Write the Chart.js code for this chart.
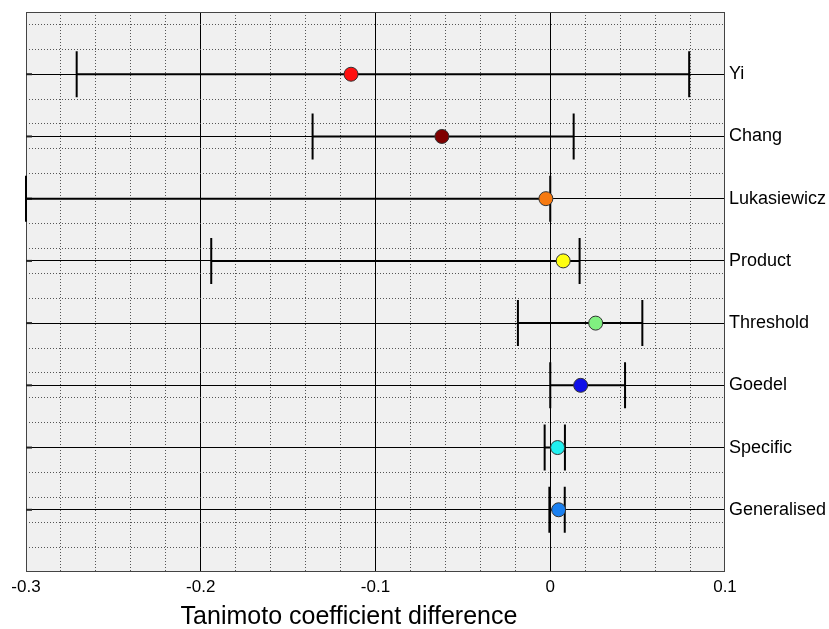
<!DOCTYPE html>
<html>
<head>
<meta charset="utf-8">
<script src="https://cdn.jsdelivr.net/npm/chart.js@4.4.0/dist/chart.umd.min.js"></script>
<style>
  body { margin: 0; background: #fff; }
  #wrap { width: 829px; height: 629px; }
</style>
</head>
<body>
<div id="wrap"><canvas id="myChart"></canvas></div>
<script>
const categories = ['Yi', 'Chang', 'Lukasiewicz', 'Product', 'Threshold', 'Goedel', 'Specific', 'Generalised'];
const means = [-0.114, -0.062, -0.0025, 0.0074, 0.026, 0.0174, 0.0042, 0.0048];
const lower = [-0.271, -0.136, -0.3, -0.194, -0.0185, 0.0, -0.0032, -0.0005];
const upper = [0.0795, 0.0134, 0.0, 0.0168, 0.0527, 0.0428, 0.0084, 0.0083];
const xTicks = [-0.3, -0.2, -0.1, 0, 0.1];
const pointColors = ['#ff1010', '#800000', '#f77a10', '#ffff10', '#80f080', '#1010e8', '#20f0f0', '#1a80f0'];
const xTitle = 'Tanimoto coefficient difference';

// category i sits at y = 8 - i (top to bottom)
const yPos = categories.map((c, i) => categories.length - i);

const isMultiple = (v, step) => Math.abs(v / step - Math.round(v / step)) < 1e-6;

const plotBits = {
  id: 'plotBits',
  beforeDraw(chart) {
    const a = chart.chartArea, ctx = chart.ctx;
    ctx.save();
    ctx.fillStyle = '#f0f0f0';
    ctx.fillRect(a.left, a.top, a.right - a.left, a.bottom - a.top);
    ctx.restore();
  },
  beforeDatasetsDraw(chart) {
    const a = chart.chartArea, ctx = chart.ctx;
    const x = chart.scales.x, y = chart.scales.y;
    ctx.save();
    // frame
    ctx.strokeStyle = '#444';
    ctx.lineWidth = 1;
    ctx.strokeRect(a.left + 0.5, a.top + 0.5, a.right - a.left - 1, a.bottom - a.top - 1);
    // small inner tick marks on the left edge
    ctx.strokeStyle = '#222';
    ctx.lineWidth = 2;
    for (let i = 0; i < categories.length; i++) {
      const py = y.getPixelForValue(yPos[i]);
      ctx.beginPath();
      ctx.moveTo(a.left, py);
      ctx.lineTo(a.left + 6, py);
      ctx.stroke();
    }
    // error bars
    ctx.strokeStyle = '#000';
    ctx.lineWidth = 2;
    for (let i = 0; i < categories.length; i++) {
      const py = y.getPixelForValue(yPos[i]);
      const x0 = x.getPixelForValue(lower[i]);
      const x1 = x.getPixelForValue(upper[i]);
      ctx.beginPath();
      ctx.moveTo(x0, py);
      ctx.lineTo(x1, py);
      ctx.moveTo(x0, py - 23);
      ctx.lineTo(x0, py + 23);
      ctx.moveTo(x1, py - 23);
      ctx.lineTo(x1, py + 23);
      ctx.stroke();
    }
    ctx.restore();
  },
  afterDraw(chart) {
    const ctx = chart.ctx;
    ctx.save();
    ctx.fillStyle = '#000';
    ctx.font = '25px "Liberation Sans", Arial';
    ctx.textAlign = 'center';
    ctx.textBaseline = 'middle';
    ctx.fillText(xTitle, 349, 617);
    ctx.restore();
  }
};

const ctx = document.getElementById('myChart');

const myChart = new Chart(ctx, {
  type: 'scatter',
  data: {
    datasets: [{
      label: 'mean',
      data: means.map((m, i) => ({ x: m, y: yPos[i] })),
      backgroundColor: pointColors,
      borderColor: '#333',
      borderWidth: 1,
      pointRadius: 7,
      pointHoverRadius: 7
    }]
  },
  options: {
    responsive: true,
    maintainAspectRatio: false,
    animation: false,
    events: [],
    layout: { padding: { left: 26, top: 12, right: 0, bottom: 0 } },
    plugins: { legend: { display: false }, tooltip: { enabled: false } },
    scales: {
      x: {
        type: 'linear',
        position: 'bottom',
        min: -0.3,
        max: 0.1,
        afterBuildTicks: s => { s.ticks = xTicks.map(v => ({ value: v })); },
        ticks: {
          color: '#000',
          padding: 5,
          font: { family: 'Liberation Sans, Arial', size: 17 },
          callback: v => String(Math.round(v * 10) / 10)
        },
        grid: {
          drawTicks: false,
          lineWidth: 1,
          color: c => (c.tick && (c.tick.value <= -0.3 + 1e-9 || c.tick.value >= 0.1 - 1e-9)) ? 'rgba(0,0,0,0)' : '#000'
        },
        border: { display: false },
        afterFit: s => { s.height = 57; s.paddingLeft = 0; s.paddingRight = 0; }
      },
      x2: {
        type: 'linear',
        axis: 'x',
        position: 'top',
        min: -0.3,
        max: 0.1,
        ticks: { display: false, stepSize: 0.02 },
        grid: {
          drawTicks: false,
          lineWidth: 1,
          color: c => (c.tick && isMultiple(c.tick.value, 0.1)) ? 'rgba(0,0,0,0)' : '#555'
        },
        border: { display: false, dash: [1, 2] },
        afterFit: s => { s.height = 0; }
      },
      y: {
        type: 'linear',
        position: 'right',
        min: 0,
        max: 9,
        afterBuildTicks: s => { s.ticks = yPos.map(v => ({ value: v })); },
        ticks: {
          color: '#000',
          padding: 4,
          crossAlign: 'near',
          font: { family: 'Liberation Sans, Arial', size: 18 },
          callback: v => categories[categories.length - v] || ''
        },
        grid: { drawTicks: false, lineWidth: 1, color: '#000' },
        border: { display: false },
        afterFit: s => { s.width = 104; s.paddingTop = 0; s.paddingBottom = 0; }
      },
      y2: {
        type: 'linear',
        axis: 'y',
        position: 'left',
        min: 0,
        max: 9,
        ticks: { display: false, stepSize: 0.4 },
        grid: {
          drawTicks: false,
          lineWidth: 1,
          color: c => (c.tick && (isMultiple(c.tick.value, 1) || c.tick.value >= 9)) ? 'rgba(0,0,0,0)' : '#555'
        },
        border: { display: false, dash: [1, 2] },
        afterFit: s => { s.width = 0; }
      }
    }
  },
  plugins: [plotBits]
});
</script>
</body>
</html>
